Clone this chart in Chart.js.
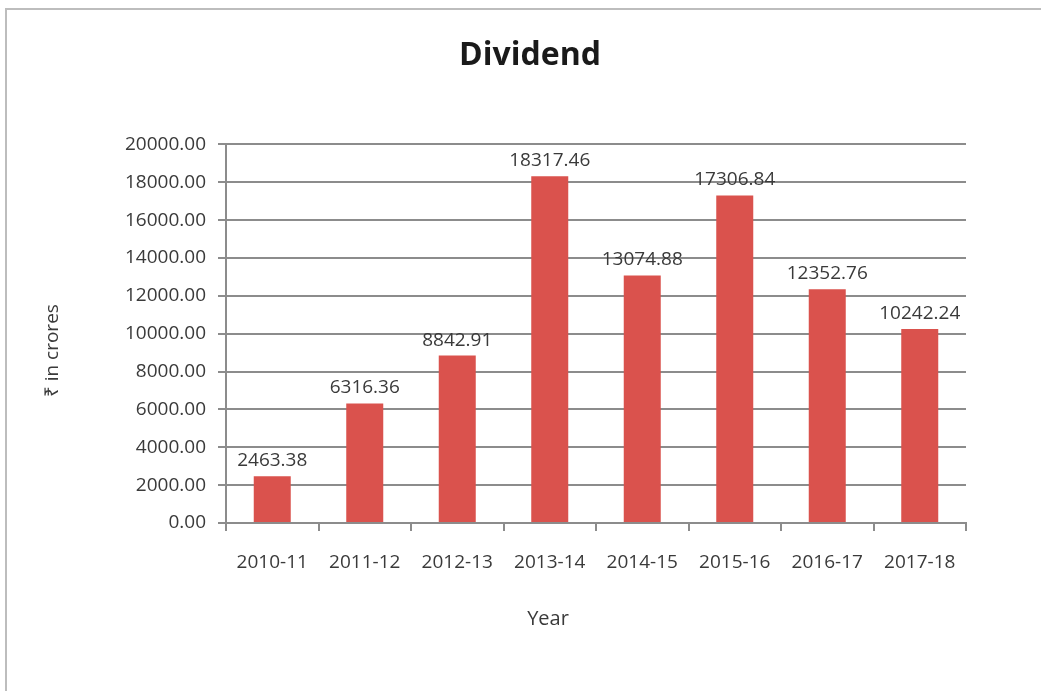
<!DOCTYPE html>
<html>
<head>
<meta charset="utf-8">
<script src="https://cdn.jsdelivr.net/npm/chart.js@4/dist/chart.umd.min.js"></script>
<style>
  html, body { margin: 0; padding: 0; background: #fff; }
  #wrap { position: relative; width: 1041px; height: 691px; }
  #frame { position: absolute; left: 5px; top: 8px; right: 0; bottom: 0;
           border-top: 2px solid #bdbdbd; border-left: 2px solid #bdbdbd; pointer-events: none; }
</style>
</head>
<body>
<div id="wrap">
  <canvas id="grafico" width="1041" height="691"></canvas>
  <div id="frame"></div>
</div>
<script>
// dados do gráfico
const anos = ['2010-11', '2011-12', '2012-13', '2013-14', '2014-15', '2015-16', '2016-17', '2017-18'];
const dividendos = [2463.38, 6316.36, 8842.91, 18317.46, 13074.88, 17306.84, 12352.76, 10242.24];
const eixoMin = 0;
const eixoMax = 20000;
const eixoPasso = 2000;

const corTexto = '#3a3a3a';
const corGrade = '#8c8c8c';
const fonte = "'Open Sans', sans-serif";

// rótulos em cima das barras
const rotulosBarras = {
    id: 'rotulosBarras',
    afterDatasetsDraw(chart) {
        const ctx = chart.ctx;
        const meta = chart.getDatasetMeta(0);
        ctx.save();
        ctx.font = '19px ' + fonte;
        ctx.fillStyle = corTexto;
        ctx.textAlign = 'center';
        ctx.textBaseline = 'alphabetic';
        meta.data.forEach((bar, i) => {
            ctx.fillText(dividendos[i].toFixed(2), bar.x, bar.y - 10);
        });
        ctx.restore();
    }
};

// títulos dos eixos (posição igual ao original, fora do centro)
const titulosEixos = {
    id: 'titulosEixos',
    afterDraw(chart) {
        const ctx = chart.ctx;
        const area = chart.chartArea;
        ctx.save();
        ctx.fillStyle = corTexto;
        ctx.textAlign = 'center';
        ctx.textBaseline = 'middle';
        // eixo x
        ctx.font = '20px ' + fonte;
        ctx.fillText('Year', (area.left + area.right) / 2 - 48, area.bottom + 96);
        // eixo y
        ctx.font = '19px ' + fonte;
        ctx.translate(53, (area.top + area.bottom) / 2 + 17);
        ctx.rotate(-Math.PI / 2);
        ctx.fillText('₹ in crores', 0, 0);
        ctx.restore();
    }
};

Chart.defaults.animation = false;
Chart.defaults.font.family = fonte;
Chart.defaults.color = corTexto;

const ctx = document.getElementById('grafico').getContext('2d');
window.graficoDividendo = new Chart(ctx, {
    type: 'bar',
    data: {
        labels: anos,
        datasets: [{
            label: 'Dividend',
            data: dividendos,
            backgroundColor: '#da524d',
            borderWidth: 0,
            categoryPercentage: 1,
            barPercentage: 0.4
        }]
    },
    options: {
        responsive: false,
        layout: { padding: { left: 19, right: 0, top: 0, bottom: 48 } },
        plugins: {
            legend: { display: false },
            tooltip: { enabled: false },
            title: {
                display: true,
                text: 'Dividend',
                color: '#1a1a1a',
                font: { size: 32, weight: 'bold', family: fonte },
                padding: { top: 37, bottom: 69 }
            }
        },
        scales: {
            x: {
                grid: { offset: true, drawOnChartArea: false, tickLength: 8, color: corGrade, lineWidth: 2 },
                border: { display: true, color: corGrade, width: 2 },
                ticks: { font: { size: 19 }, padding: 20, color: corTexto, maxRotation: 0 },
                afterFit(scale) { scale.height = 120; }
            },
            y: {
                min: eixoMin,
                max: eixoMax,
                ticks: {
                    stepSize: eixoPasso,
                    font: { size: 19 },
                    padding: 12,
                    color: corTexto,
                    callback: v => v.toFixed(2)
                },
                grid: { tickLength: 8, color: corGrade, lineWidth: 2 },
                border: { display: true, color: corGrade, width: 2 },
                afterFit(scale) { scale.width = 207; }
            },
            // eixo vazio só para reservar a margem direita
            direita: {
                position: 'right',
                display: true,
                grid: { display: false },
                border: { display: false },
                ticks: { display: false },
                afterFit(scale) { scale.width = 75; }
            }
        }
    },
    plugins: [rotulosBarras, titulosEixos]
});
</script>
</body>
</html>
